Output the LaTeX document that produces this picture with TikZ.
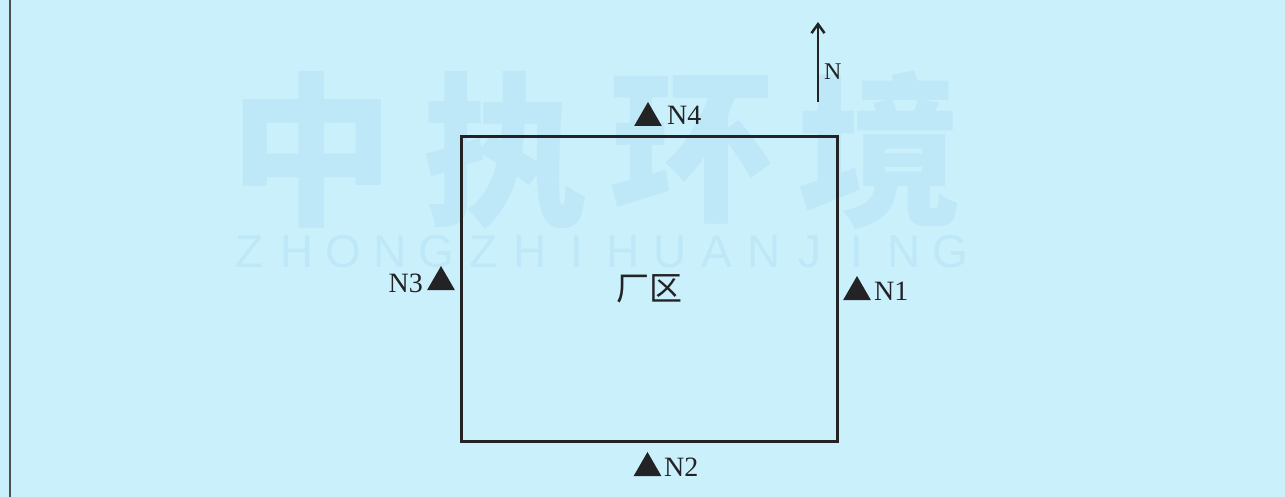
\documentclass[tikz,border=0pt]{standalone}
\usepackage{fontspec}
\setmainfont{Liberation Serif}
\newfontfamily\cjk{Noto Sans CJK SC}
\newfontfamily\wmsans{Liberation Sans}
\usetikzlibrary{shapes.geometric,arrows.meta}
\definecolor{bg}{RGB}{202,240,252}
\definecolor{wm}{RGB}{190,232,247}
\definecolor{ink}{RGB}{35,35,38}
\begin{document}
\begin{tikzpicture}[x=1pt,y=-1pt,
  tri/.style={regular polygon, regular polygon sides=3, fill=ink, inner sep=0pt, minimum size=32pt},
  lab/.style={font=\fontsize{28}{28}\selectfont, text=ink, inner sep=0pt},
  wmchar/.style={font=\cjk\bfseries\fontsize{165}{165}\selectfont, text=wm, inner sep=0pt},
  wmletter/.style={font=\wmsans\fontsize{46}{46}\selectfont, text=wm, inner sep=0pt},
  site/.style={draw=ink, line width=3pt, minimum width=376pt, minimum height=304pt, inner sep=0pt,
    font=\cjk\fontsize{33}{33}\selectfont, text=ink}]
\fill[bg] (0,0) rectangle (1285,497);
\useasboundingbox (0,0) rectangle (1285,497);
% watermark
\node[wmchar] (w1) at (312,150) {中};
\node[wmchar] (w2) at (505,150) {执};
\node[wmchar] (w3) at (692,150) {环};
\node[wmchar] (w4) at (880,150) {境};
\foreach \ch [count=\i from 0] in {Z,H,O,N,G,Z,H,I,H,U,A,N,J,I,N,G}
  \node[wmletter] (wl\i) at (250+46.7*\i,252) {\ch};
% left margin line
\coordinate (l1) at (10,0);
\coordinate (l2) at (10,497);
\draw[ink!80, line width=1.5pt] (l1) -- (l2);
% site
\node[site] (site) at (649,289) {厂区};
% monitoring points
\node[tri] (t4) at (648,118) {};
\node[lab, anchor=base west] (n4) at (667,125) {N4};
\node[tri] (t3) at (441,282) {};
\node[lab, anchor=base east] (n3) at (423,292) {N3};
\node[tri] (t1) at (857,292) {};
\node[lab, anchor=base west] (n1) at (874,300) {N1};
\node[tri] (t2) at (647.5,468) {};
\node[lab, anchor=base west] (n2) at (664,476) {N2};
% north arrow
\coordinate (a1) at (818,102);
\coordinate (a2) at (818,22);
\draw[ink, line width=2.5pt, -{Straight Barb[length=9pt,width=13pt]}] (a1) -- (a2);
\node[lab, font=\fontsize{24}{24}\selectfont, anchor=base west] (nn) at (824,80) {N};
\end{tikzpicture}
\end{document}
